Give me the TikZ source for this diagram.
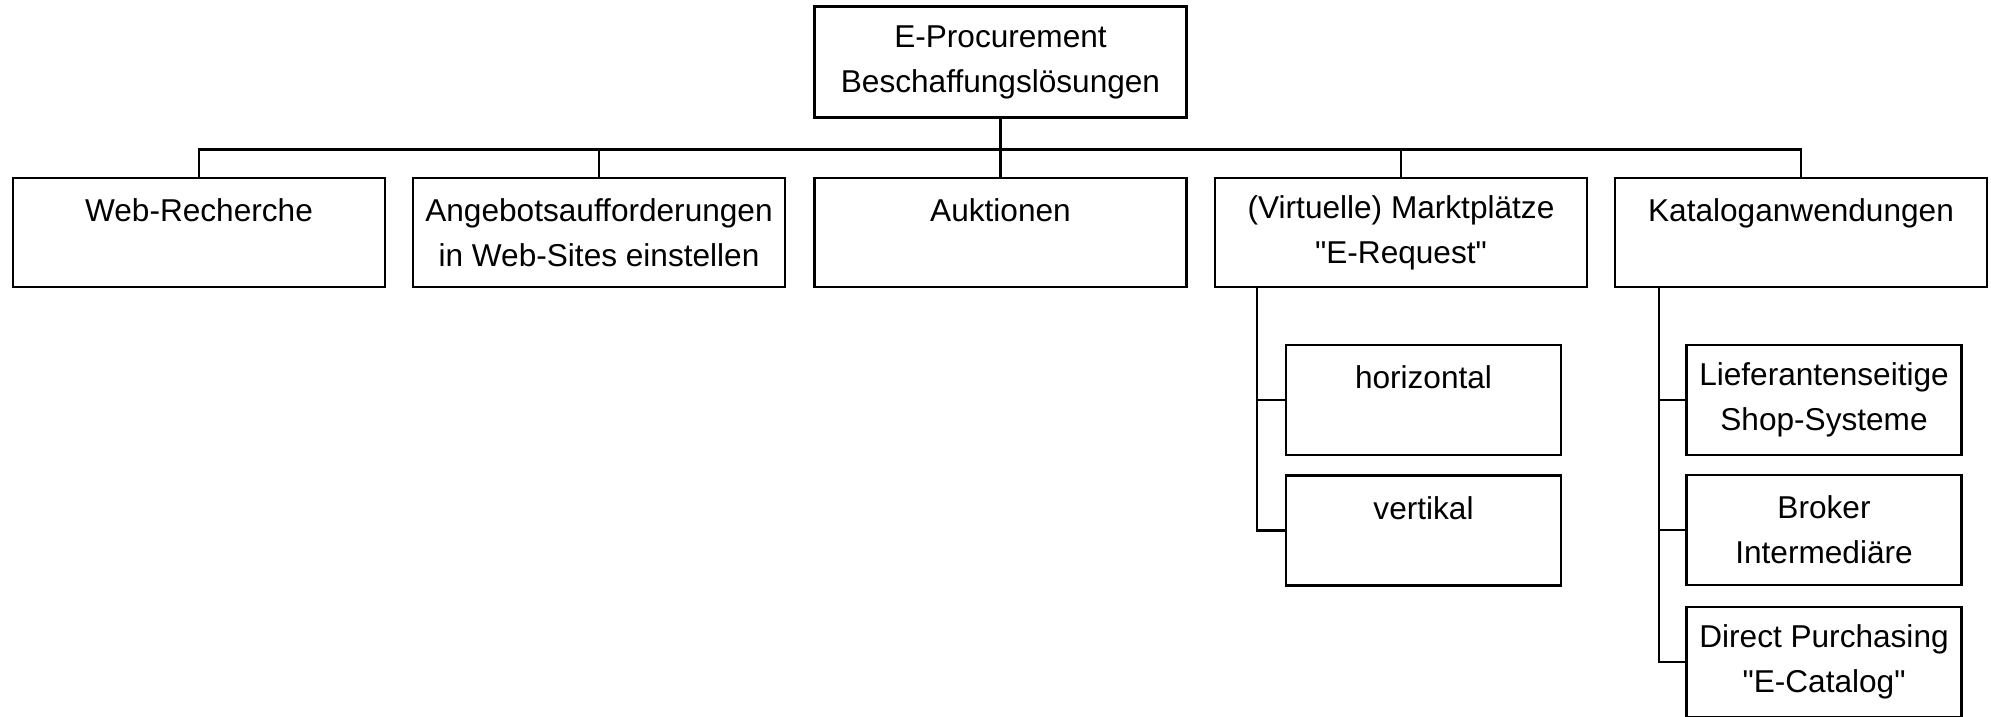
\documentclass[tikz,border=0pt]{standalone}
\usepackage{fontspec}
\setmainfont{Liberation Sans}[Ligatures=TeXOff]
\usetikzlibrary{positioning}

\tikzset{
  box/.style={draw,line width=1.2pt,minimum width=186pt,minimum height=54.5pt,
    align=center,inner sep=0pt,font=\fontsize{15.8}{22.5}\selectfont},
  subbox/.style={box,minimum width=137.5pt,minimum height=55pt},
  tree/.style={line width=1.2pt}
}

\begin{document}
\begin{tikzpicture}[x=0.5pt,y=-0.5pt]
\useasboundingbox (0,0) rectangle (1991,717);

\node[box,minimum height=55.5pt] (top) at (1000.5,62) {E-Procurement\\Beschaffungslösungen};
\foreach \x/\n/\t in {199/web/{Web-Recherche\\~},
    599/angebot/{Angebotsaufforderungen\\in Web-Sites einstellen},
    1000.5/auktion/{Auktionen\\~},
    1401/markt/{(Virtuelle) Marktplätze\\"E-Request"},
    1801/katalog/{Kataloganwendungen\\~}} {
    \node[box] (\n) at (\x,232.5) {\t};
    \draw[tree] (top.south) -- ++(0,31) -| (\n.north);
}

% Marktplaetze
\node[subbox] (horiz) at (1423.5,400) {horizontal\\~};
\node[subbox] (vert) at (1423.5,530.5) {vertikal\\~};
\draw[tree] (markt.south west) ++(43,0) |- (horiz.west);
\draw[tree] (markt.south west) ++(43,0) |- (vert.west);

% Katalog
\node[subbox] (shop) at (1824,400) {Lieferantenseitige\\Shop-Systeme};
\node[subbox] (broker) at (1824,530) {Broker\\Intermediäre};
\node[subbox] (direct) at (1824,662) {Direct Purchasing\\"E-Catalog"};
\foreach \n in {shop,broker,direct}
    \draw[tree] (katalog.south west) ++(45,0) |- (\n.west);
\end{tikzpicture}
\end{document}
